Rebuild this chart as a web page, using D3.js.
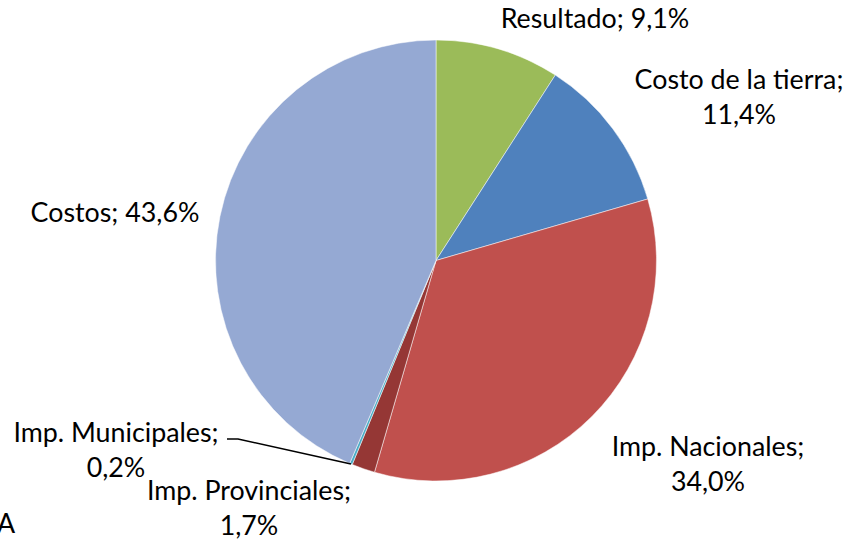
<!DOCTYPE html>
<html><head><meta charset="utf-8">
<script src="https://cdn.jsdelivr.net/npm/d3@7"></script>
<style>html,body{margin:0;padding:0;background:#fff;}svg{display:block;}</style>
</head><body>
<svg id="c" width="847" height="542"></svg>
<script>
const categories = ["Resultado", "Costo de la tierra", "Imp. Nacionales", "Imp. Provinciales", "Imp. Municipales", "Costos"];
const values = [9.1, 11.4, 34.0, 1.7, 0.2, 43.6];
const valueLabels = ["9,1%", "11,4%", "34,0%", "1,7%", "0,2%", "43,6%"];
const colors = ["#9BBB59", "#4F81BD", "#C0504D", "#953735", "#4BACC6", "#95A9D3"];

// label layout: [centerX, baselineY, twoLines]
const labelLayout = [
  [595, 28, false],
  [739, 89, true],
  [708, 456, true],
  [249, 500, true],
  [116, 442, true],
  [115, 222, false]
];

const W = 847, H = 542;
const cx = 436, cy = 260.5, R = 220.5;
const svg = d3.select("#c");
const g = svg.append("g").attr("transform", `translate(${cx},${cy})`);

const pie = d3.pie().sort(null).value(d => d.v).startAngle(0).endAngle(2*Math.PI);
const data = categories.map((c, i) => ({c, v: values[i], lab: valueLabels[i], col: colors[i], i}));
const arcs = pie(data);
const arc = d3.arc().innerRadius(0).outerRadius(R);

g.selectAll("path.slice").data(arcs).enter().append("path")
  .attr("class", "slice")
  .attr("d", arc)
  .attr("fill", d => d.data.col)
  .attr("stroke", "#fff").attr("stroke-width", 0.5);

// leader line for Imp. Municipales
const mun = arcs[4];
const midA = (mun.startAngle + mun.endAngle) / 2;
const px = cx + Math.sin(midA) * R, py = cy - Math.cos(midA) * R;
svg.append("polyline")
  .attr("points", `${227},${439} ${238},${439} ${px},${py}`)
  .attr("fill", "none").attr("stroke", "#000").attr("stroke-width", 1.6);

const font = "Lato, Calibri, 'Open Sans', sans-serif";
const fs = 26.8;
const labels = svg.append("g").attr("font-family", font).attr("font-size", fs).attr("fill", "#000").attr("text-anchor", "middle");
data.forEach((d, i) => {
  const [x, y, two] = labelLayout[i];
  if (two) {
    labels.append("text").attr("x", x).attr("y", y).text(d.c + ";");
    labels.append("text").attr("x", x).attr("y", y + 35).text(d.lab);
  } else {
    labels.append("text").attr("x", x).attr("y", y).text(d.c + "; " + d.lab);
  }
});
svg.append("text").attr("x", -3).attr("y", 533).attr("font-family", font).attr("font-size", fs).text("A");
</script>
</body></html>
